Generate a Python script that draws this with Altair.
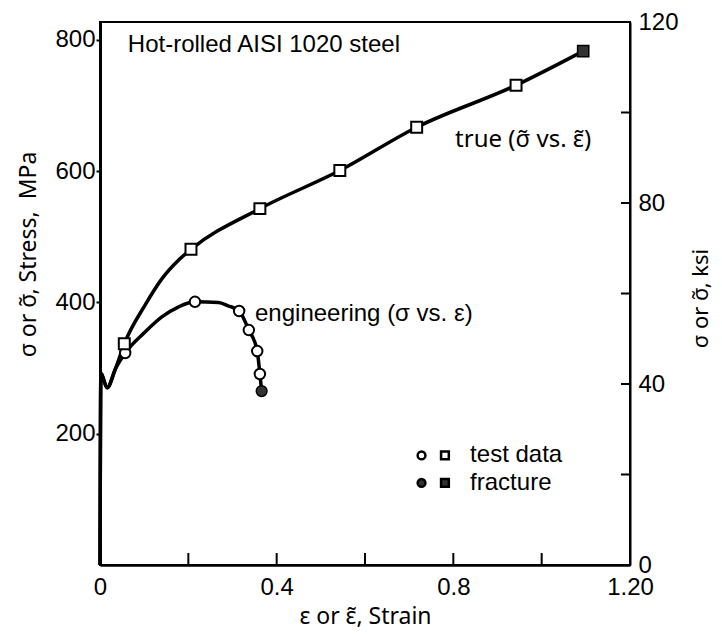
import altair as alt
import pandas as pd

# ---------------- data ----------------
# true stress-strain test points (square markers)
true_strain = [0.055, 0.206, 0.362, 0.543, 0.717, 0.942]
true_stress = [337, 481, 543, 601, 667, 731]
true_frac_strain = [1.094]
true_frac_stress = [783]

# engineering stress-strain test points (circle markers)
eng_strain = [0.057, 0.215, 0.315, 0.337, 0.356, 0.362]
eng_stress = [323, 401, 387, 358, 326, 291]
eng_frac_strain = [0.366]
eng_frac_stress = [265]

# points (no markers there)
eng_curve_strain = [0.0, 0.002, 0.016, 0.035, 0.102, 0.14, 0.177, 0.268, 0.29]
eng_curve_stress = [0, 292, 270, 299, 355, 378, 393, 400, 395]
true_curve_strain = [0.0, 0.002, 0.016, 0.035, 0.102, 0.14, 0.177]
true_curve_stress = [0, 292, 270, 299, 396, 436, 464]

# axes
x_tick_values = [0.2, 0.4, 0.6, 0.8, 1.0]
x_label_values = [0, 0.4, 0.8, 1.2]
mpa_label_values = [200, 400, 600, 800]
ksi_tick_values = [20, 40, 60, 80, 100]
ksi_label_values = [0, 40, 80, 120]
KSI_TO_MPA = 6.894757

# texts
title_text = "Hot-rolled AISI 1020 steel"
eng_label = "engineering (σ vs. ε)"
true_label = "true (σ\u0303 vs. ε\u0303)"
legend_labels = ["test data", "fracture"]

# ---------------- tables ----------------
eng_curve = pd.DataFrame({
    "strain": eng_curve_strain + eng_strain + eng_frac_strain,
    "stress": eng_curve_stress + eng_stress + eng_frac_stress,
}).sort_values("strain")
true_curve = pd.DataFrame({
    "strain": true_curve_strain + true_strain + true_frac_strain,
    "stress": true_curve_stress + true_stress + true_frac_stress,
}).sort_values("strain")
eng_pts = pd.DataFrame({"strain": eng_strain, "stress": eng_stress})
true_pts = pd.DataFrame({"strain": true_strain, "stress": true_stress})
eng_frac = pd.DataFrame({"strain": eng_frac_strain, "stress": eng_frac_stress})
true_frac = pd.DataFrame({"strain": true_frac_strain, "stress": true_frac_stress})

# annotation anchors in data units (strain, MPa)
notes = pd.DataFrame({
    "strain": [0.063, 0.351],
    "stress": [792, 382],
    "text": [title_text, eng_label],
})
notes_tilde = pd.DataFrame({"strain": [0.804], "stress": [648], "text": [true_label]})
legend_rows = pd.DataFrame({
    "stress": [167, 125],
    "text": legend_labels,
    "kind": ["open", "filled"],
})
legend_rows["cx"] = 0.728
legend_rows["sx"] = 0.781
legend_rows["tx"] = 0.838

xticks = pd.DataFrame({"t": x_tick_values})
kticks = pd.DataFrame({"ksi": ksi_tick_values})

# ---------------- chart ----------------
F = "Liberation Sans"
FT = "Noto Sans"
W, H = 530, 543
xs = alt.Scale(domain=[0, 1.2], nice=False, zero=False)
ys = alt.Scale(domain=[0, 120 * KSI_TO_MPA], nice=False, zero=False)
ks = alt.Scale(domain=[0, 120], nice=False, zero=False)

x_axis = alt.Axis(
    values=x_label_values,
    labelExpr="datum.value == 0 ? '0' : (datum.value == 1.2 ? '1.20' : format(datum.value, '.1f'))",
    ticks=False, tickSize=0, grid=False,
    domainWidth=2.5, domainColor="black",
    labelFontSize=24, labelPadding=22, labelBaseline="middle",
    labelFlush=False, labelOverlap=False,
    title="ε or ε\u0303, Strain", titleFontSize=23, titleFont=FT,
    titleY=51, titleBaseline="middle",
)
y_axis = alt.Axis(
    values=mpa_label_values,
    tickSize=4, tickWidth=2, tickColor="black", grid=False,
    domainWidth=3, domainColor="black",
    labelFontSize=24, labelPadding=1,
    title="σ or σ\u0303, Stress,\u00a0\u00a0MPa", titleFontSize=23, titleFont=FT,
    titleAngle=270, titleX=-72, titleY=232,
    titleAlign="center", titleBaseline="middle",
)
k_axis = alt.Axis(
    orient="right", values=ksi_label_values,
    ticks=False, tickSize=0, grid=False,
    domainWidth=2, domainColor="black",
    labelFontSize=24, labelPadding=8, labelOverlap=False, labelFlush=False,
    title="σ or σ\u0303, ksi", titleFontSize=22, titleFont=FT,
    titleAngle=270, titleX=70, titleY=276,
    titleAlign="center", titleBaseline="middle",
)

def X(field):
    return alt.X(f"{field}:Q", scale=xs, axis=x_axis)

def Y(field, axis=None):
    return alt.Y(f"{field}:Q", scale=ys, axis=axis)

eng_line = alt.Chart(eng_curve).mark_line(
    interpolate="monotone", color="black", strokeWidth=3.5
).encode(x=X("strain"), y=Y("stress", y_axis), order="strain:Q")

true_line = alt.Chart(true_curve).mark_line(
    interpolate="monotone", color="black", strokeWidth=3.5
).encode(x=X("strain"), y=Y("stress"), order="strain:Q")

eng_marks = alt.Chart(eng_pts).mark_point(
    shape="circle", filled=True, fill="white", stroke="black",
    strokeWidth=2, size=110, opacity=1
).encode(x=X("strain"), y=Y("stress"))

true_marks = alt.Chart(true_pts).mark_point(
    shape="square", filled=True, fill="white", stroke="black",
    strokeWidth=2, size=120, opacity=1
).encode(x=X("strain"), y=Y("stress"))

eng_frac_mark = alt.Chart(eng_frac).mark_point(
    shape="circle", filled=True, fill="#333", stroke="black",
    strokeWidth=1.5, size=115, opacity=1
).encode(x=X("strain"), y=Y("stress"))

true_frac_mark = alt.Chart(true_frac).mark_point(
    shape="square", filled=True, fill="#333", stroke="black",
    strokeWidth=1.5, size=125, opacity=1
).encode(x=X("strain"), y=Y("stress"))

x_inward = alt.Chart(xticks).mark_rule(color="black", strokeWidth=2).encode(
    x=X("t"), y=alt.value(H), y2=alt.value(H - 12)
)

note_text = alt.Chart(notes).mark_text(
    align="left", baseline="middle", fontSize=24, font=F, color="black"
).encode(x=X("strain"), y=Y("stress"), text="text:N")

note_tilde = alt.Chart(notes_tilde).mark_text(
    align="left", baseline="middle", fontSize=24, font=FT, color="black"
).encode(x=X("strain"), y=Y("stress"), text="text:N")

leg_text = alt.Chart(legend_rows).mark_text(
    align="left", baseline="middle", fontSize=24, font=F, color="black"
).encode(x=X("tx"), y=Y("stress"), text="text:N")

fill_scale = alt.Scale(domain=["open", "filled"], range=["white", "#333"])

leg_circle = alt.Chart(legend_rows).mark_point(
    shape="circle", filled=True, stroke="black", strokeWidth=2.5,
    size=60, opacity=1
).encode(x=X("cx"), y=Y("stress"),
         fill=alt.Fill("kind:N", scale=fill_scale, legend=None))

leg_square = alt.Chart(legend_rows).mark_point(
    shape="square", filled=True, stroke="black", strokeWidth=2.5,
    size=60, opacity=1
).encode(x=X("sx"), y=Y("stress"),
         fill=alt.Fill("kind:N", scale=fill_scale, legend=None))

right = alt.Chart(kticks).mark_rule(color="black", strokeWidth=2).encode(
    y=alt.Y("ksi:Q", scale=ks, axis=k_axis),
    x=alt.value(W), x2=alt.value(W - 9),
)

chart = alt.layer(
    eng_line, true_line, x_inward, eng_marks, true_marks,
    eng_frac_mark, true_frac_mark, note_text, note_tilde, leg_text,
    leg_circle, leg_square, right,
).resolve_scale(y="independent").properties(
    width=W, height=H,
    autosize=alt.AutoSizeParams(type="none"),
    padding={"left": 92, "top": 14, "right": 84, "bottom": 64},
    background="white",
).configure_view(
    stroke="black", strokeWidth=2
).configure_axis(
    labelFont=F, titleFont=F, labelColor="black", titleColor="black",
    titleFontWeight="normal",
)

chart.save("out.html", embed_options={"renderer": "svg", "actions": False})
